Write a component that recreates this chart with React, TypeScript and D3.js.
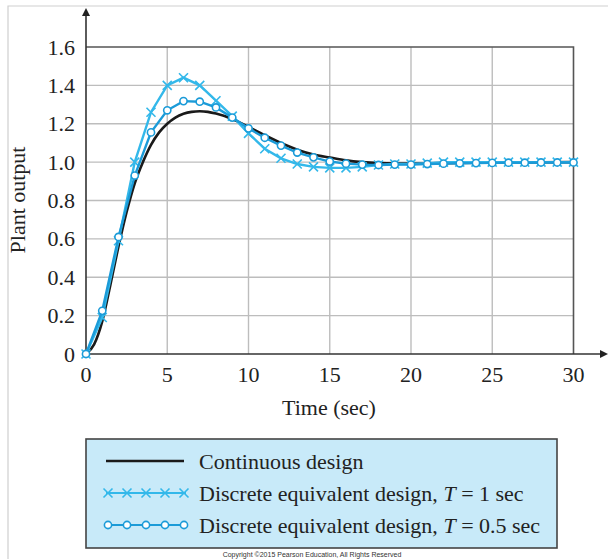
import * as d3 from "d3";

// sample times (sec)
const discreteTimes = d3.range(0, 31);
const continuousTimes = [0, 0.5, 1, 1.5, 2, 2.5, 3, 3.5, 4, 4.5, 5, 5.5, 6, 6.5, 7, 7.5, 8, 9, 10, 11, 12, 13, 14, 15, 16, 17, 18, 19, 20, 22, 25, 30];

const continuousValues = [0, 0.05, 0.17, 0.36, 0.56, 0.74, 0.89, 1.0, 1.09, 1.155, 1.2, 1.232, 1.252, 1.262, 1.265, 1.262, 1.253, 1.225, 1.183, 1.14, 1.1, 1.065, 1.04, 1.024, 1.009, 1.0, 0.995, 0.993, 0.993, 0.995, 0.998, 1.0];
const t1Values = [0, 0.19, 0.59, 1.0, 1.26, 1.4, 1.44, 1.4, 1.32, 1.24, 1.15, 1.07, 1.02, 0.99, 0.975, 0.97, 0.97, 0.975, 0.985, 0.99, 0.99, 0.995, 1.0, 1.0, 1.0, 1.0, 1.0, 1.0, 1.0, 1.0, 1.0];
const t05Values = [0, 0.225, 0.61, 0.93, 1.155, 1.27, 1.318, 1.315, 1.285, 1.232, 1.176, 1.127, 1.086, 1.05, 1.025, 1.003, 0.992, 0.987, 0.985, 0.987, 0.987, 0.99, 0.992, 0.994, 0.995, 0.996, 0.997, 0.997, 0.998, 0.998, 0.998];

const xTicks = [0, 5, 10, 15, 20, 25, 30];
const yTicks = [0, 0.2, 0.4, 0.6, 0.8, 1.0, 1.2, 1.4, 1.6];
const legendLabels = ["Continuous design", "Discrete equivalent design, ", "Discrete equivalent design, "];

const colorT1 = "#33b8ea";
const colorT05 = "#1b9bd8";
const font = "'Liberation Serif', 'Times New Roman', serif";
const fs = 22;

function Cross({ x, y, color }: { x: number; y: number; color: string }) {
  const s = 4.5;
  return (
    <path d={`M${x - s},${y - s}L${x + s},${y + s}M${x - s},${y + s}L${x + s},${y - s}`} stroke={color} strokeWidth={1.6} fill="none" />
  );
}

function Ring({ x, y, color }: { x: number; y: number; color: string }) {
  return <circle cx={x} cy={y} r={3.6} fill="#fff" stroke={color} strokeWidth={1.6} />;
}

export default function App() {
  const x = d3.scaleLinear().domain([0, 30]).range([86, 573.5]);
  const y = d3.scaleLinear().domain([0, 1.6]).range([354, 47]);

  const smooth = d3.line<number>().x((_, i) => x(continuousTimes[i])).y((d) => y(d)).curve(d3.curveMonotoneX);
  const straight = d3.line<number>().x((_, i) => x(discreteTimes[i])).y((d) => y(d));

  const legendX = [108, 127, 146, 165, 184];
  const rowY = [461, 493, 525];

  return (
    <svg width={608} height={559} style={{ position: "absolute", left: 0, top: 0 }} fontFamily={font}>
      <rect width={608} height={559} fill="#fff" />
      {/* page frame */}
      <path d="M8,559V6H608" fill="none" stroke="#cfcfcf" strokeWidth={1.2} />

      {/* grid */}
      {xTicks.slice(1, -1).map((t) => (
        <line key={"gx" + t} x1={x(t)} x2={x(t)} y1={y(0)} y2={y(1.6)} stroke="#bdbdbd" strokeWidth={1.4} />
      ))}
      {yTicks.slice(1, -1).map((t) => (
        <line key={"gy" + t} x1={x(0)} x2={x(30)} y1={y(t)} y2={y(t)} stroke="#bdbdbd" strokeWidth={1.4} />
      ))}
      {/* box */}
      <path d={`M${x(0)},${y(1.6)}H${x(30)}V${y(0)}`} fill="none" stroke="#555" strokeWidth={1.6} />

      {/* axes with arrows */}
      <line x1={x(0)} x2={x(0)} y1={y(0)} y2={14} stroke="#333" strokeWidth={1.6} />
      <path d={`M${x(0)},8L${x(0) - 4},16L${x(0) + 4},16Z`} fill="#222" />
      <line x1={x(0)} x2={602} y1={y(0)} y2={y(0)} stroke="#333" strokeWidth={1.6} />
      <path d={`M608,${y(0)}L600,${y(0) - 4}L600,${y(0) + 4}Z`} fill="#222" />

      {/* tick labels */}
      {xTicks.map((t) => (
        <text key={"xt" + t} x={x(t)} y={382} textAnchor="middle" fontSize={fs} fill="#222">{t}</text>
      ))}
      {yTicks.map((t) => (
        <text key={"yt" + t} x={75} y={y(t) + 7.5} textAnchor="end" fontSize={fs} fill="#222">{t === 0 ? "0" : t.toFixed(1)}</text>
      ))}

      <text x={329} y={415} textAnchor="middle" fontSize={fs} fill="#222">Time (sec)</text>
      <text transform="translate(25,200) rotate(-90)" textAnchor="middle" fontSize={fs} fill="#222">Plant output</text>

      {/* series */}
      <path d={smooth(continuousValues) ?? ""} fill="none" stroke="#1a1a1a" strokeWidth={2.6} />
      <path d={straight(t1Values) ?? ""} fill="none" stroke={colorT1} strokeWidth={2.4} />
      {t1Values.map((v, i) => (
        <Cross key={"c" + i} x={x(discreteTimes[i])} y={y(v)} color={colorT1} />
      ))}
      <path d={straight(t05Values) ?? ""} fill="none" stroke={colorT05} strokeWidth={2.4} />
      {t05Values.map((v, i) => (
        <Ring key={"r" + i} x={x(discreteTimes[i])} y={y(v)} color={colorT05} />
      ))}

      {/* legend */}
      <rect x={86} y={439} width={471} height={109} fill="#c8eaf9" stroke="#444" strokeWidth={1.6} />
      <line x1={106} x2={184} y1={rowY[0]} y2={rowY[0]} stroke="#1a1a1a" strokeWidth={2.6} />
      <line x1={106} x2={186} y1={rowY[1]} y2={rowY[1]} stroke={colorT1} strokeWidth={2} />
      {legendX.map((lx) => (
        <Cross key={"lc" + lx} x={lx} y={rowY[1]} color={colorT1} />
      ))}
      <line x1={106} x2={186} y1={rowY[2]} y2={rowY[2]} stroke={colorT05} strokeWidth={2} />
      {legendX.map((lx) => (
        <Ring key={"lr" + lx} x={lx} y={rowY[2]} color={colorT05} />
      ))}
      <text x={199} y={rowY[0] + 7.5} fontSize={fs} fill="#222">{legendLabels[0]}</text>
      <text x={199} y={rowY[1] + 7.5} fontSize={fs} fill="#222">
        {legendLabels[1]}<tspan fontStyle="italic">T</tspan> = 1 sec
      </text>
      <text x={199} y={rowY[2] + 7.5} fontSize={fs} fill="#222">
        {legendLabels[2]}<tspan fontStyle="italic">T</tspan> = 0.5 sec
      </text>

      <text x={312} y={557} textAnchor="middle" fontSize={7} fontFamily="'Liberation Sans', Arial, sans-serif" fill="#333">
        Copyright ©2015 Pearson Education, All Rights Reserved
      </text>
    </svg>
  );
}
